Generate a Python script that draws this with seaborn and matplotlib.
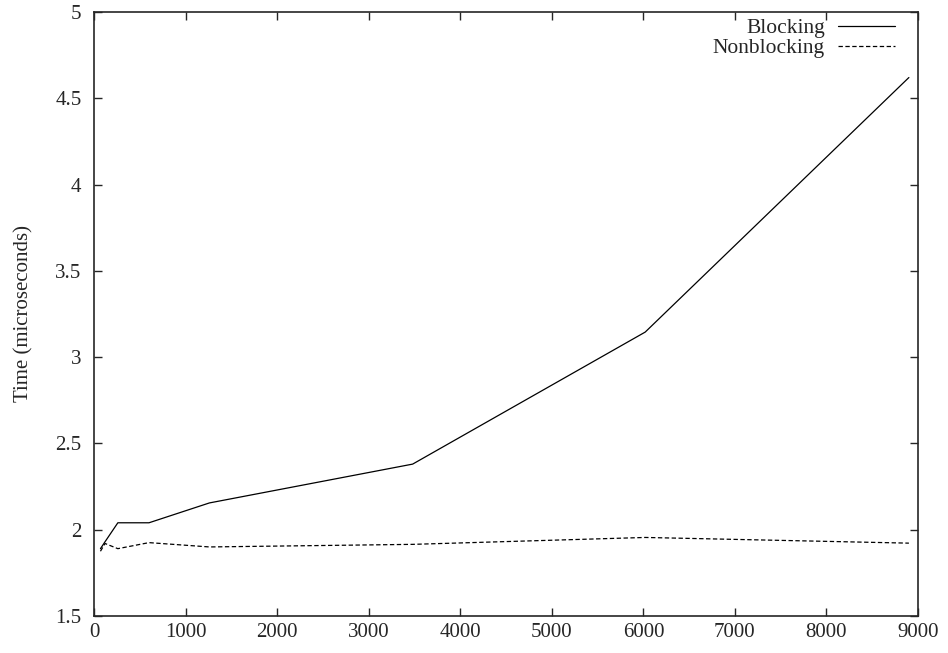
import matplotlib
matplotlib.use("Agg")
import matplotlib.pyplot as plt
import seaborn as sns
import pandas as pd

# message sizes and timings
sizes = [70, 120, 260, 600, 1260, 3480, 6020, 8900]
blocking = [1.89, 1.93, 2.04, 2.04, 2.155, 2.38, 3.145, 4.62]
nonblocking = [1.875, 1.92, 1.89, 1.925, 1.90, 1.915, 1.955, 1.922]

df = pd.DataFrame({"Size": sizes, "Blocking": blocking, "Nonblocking": nonblocking})

sns.set_style("ticks")
plt.rcParams["font.family"] = ["Liberation Serif", "DejaVu Serif"]
plt.rcParams["font.size"] = 15

fig = plt.figure(figsize=(9.48, 6.53), dpi=100)
ax = fig.add_axes([0.0992, 0.0567, 0.8692, 0.925])

sns.lineplot(data=df, x="Size", y="Blocking", ax=ax, color="black",
             linewidth=0.9, label="Blocking")
sns.lineplot(data=df, x="Size", y="Nonblocking", ax=ax, color="black",
             linewidth=0.9, linestyle=(0, (3.5, 2)), label="Nonblocking")

ax.set_xlim(0, 9000)
ax.set_ylim(1.5, 5)
ax.set_xticks(range(0, 9001, 1000))
ax.set_yticks([1.5, 2, 2.5, 3, 3.5, 4, 4.5, 5])
ax.set_yticklabels(["1.5", "2", "2.5", "3", "3.5", "4", "4.5", "5"])
ax.set_xlabel("")
ax.set_ylabel("Time (microseconds)", fontsize=15, labelpad=16)
ax.tick_params(direction="in", length=6, width=1, top=True, right=True,
               labelsize=15)
ax.tick_params(axis="y", pad=9)
ax.tick_params(axis="x", pad=5)
for s in ax.spines.values():
    s.set_linewidth(1.2)
    s.set_visible(True)

ax.legend(loc="upper right", bbox_to_anchor=(0.972, 0.99), frameon=False,
          markerfirst=False, handlelength=2.65, fontsize=15.5,
          borderaxespad=0.0, borderpad=0.0, labelspacing=0.0,
          handletextpad=0.6)

fig.savefig("out.png", dpi=100)
